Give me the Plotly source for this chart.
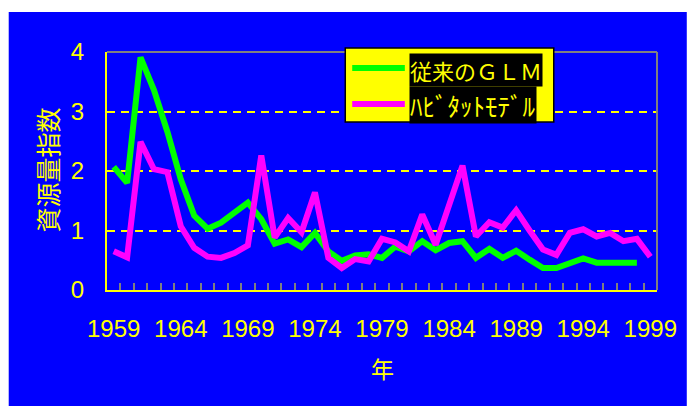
import plotly.graph_objects as go

years = list(range(1959, 2000))
glm = [2.07, 1.80, 3.91, 3.36, 2.66, 1.86, 1.25, 1.03, 1.13, 1.30,
       1.47, 1.19, 0.78, 0.85, 0.72, 0.96, 0.65, 0.49, 0.58, 0.60,
       0.54, 0.73, 0.65, 0.82, 0.67, 0.79, 0.82, 0.54, 0.69, 0.54,
       0.66, 0.51, 0.37, 0.37, 0.44, 0.53, 0.46, 0.46, 0.46, 0.46,
       None]
habitat = [0.65, 0.55, 2.49, 2.03, 1.98, 1.07, 0.71, 0.56, 0.54, 0.62,
           0.75, 2.26, 0.88, 1.21, 0.97, 1.64, 0.54, 0.37, 0.52, 0.48,
           0.86, 0.80, 0.65, 1.27, 0.76, 1.45, 2.09, 0.90, 1.14, 1.05,
           1.34, 1.00, 0.68, 0.59, 0.96, 1.02, 0.90, 0.96, 0.82, 0.86,
           0.56]
xtick_years = [1959, 1964, 1969, 1974, 1979, 1984, 1989, 1994, 1999]
series_names = ["従来のＧＬＭ", "ﾊﾋﾞﾀｯﾄﾓﾃﾞﾙ"]
y_title = "資源量指数"
x_title = "年"

YEL = "#FFFF00"
BLUE = "#0000FF"
GREEN = "#00FF00"
MAG = "#FF00FF"
GRAY = "#808080"
FONT = "Liberation Sans, Arial, Noto Sans CJK JP, sans-serif"
JFONT = "Noto Sans CJK JP, sans-serif"

W, H = 689, 406
L, R, T, B = 107, 28, 52, 116
pw, ph = W - L - R, H - T - B

def px(x):
    return (x - L) / pw

def py(y):
    return (H - B - y) / ph

fig = go.Figure()
fig.add_trace(go.Scatter(x=years, y=glm, mode="lines", name=series_names[0],
                         line=dict(color=GREEN, width=6), connectgaps=False))
fig.add_trace(go.Scatter(x=years, y=habitat, mode="lines", name=series_names[1],
                         line=dict(color=MAG, width=6)))

shapes = [
    dict(type="rect", xref="paper", yref="paper", x0=px(8), x1=px(W + 2),
         y0=py(H + 2), y1=py(12), fillcolor=BLUE, line=dict(width=0), layer="below"),
    dict(type="line", xref="paper", yref="paper", x0=0, x1=1, y0=1, y1=1,
         line=dict(color=GRAY, width=2), layer="above"),
    dict(type="line", xref="paper", yref="paper", x0=1, x1=1, y0=0, y1=1,
         line=dict(color=GRAY, width=2), layer="above"),
    # legend box
    dict(type="rect", xref="paper", yref="paper", x0=px(347), x1=px(557),
         y0=py(122), y1=py(48), fillcolor=YEL, line=dict(color="black", width=1.5),
         layer="above"),
    dict(type="line", xref="paper", yref="paper", x0=px(354), x1=px(407),
         y0=py(68), y1=py(68), line=dict(color=GREEN, width=6), layer="above"),
    dict(type="line", xref="paper", yref="paper", x0=px(354), x1=px(407),
         y0=py(104), y1=py(104), line=dict(color=MAG, width=6), layer="above"),
]

annotations = [
    dict(text=series_names[0], xref="paper", yref="paper", x=px(411), y=py(70),
         xanchor="left", yanchor="middle", showarrow=False, bgcolor="black",
         borderpad=0, font=dict(family=JFONT, size=22, color=YEL)),
    dict(text=series_names[1], xref="paper", yref="paper", x=px(411), y=py(105),
         xanchor="left", yanchor="middle", showarrow=False, bgcolor="black",
         borderpad=0, font=dict(family=JFONT, size=25, color=YEL)),
    dict(text=y_title, xref="paper", yref="paper", x=px(47), y=py(170),
         xanchor="center", yanchor="middle", textangle=-90, showarrow=False,
         font=dict(family=JFONT, size=25, color=YEL)),
    dict(text=x_title, xref="paper", yref="paper", x=px(384), y=py(368),
         xanchor="center", yanchor="middle", showarrow=False,
         font=dict(family=JFONT, size=23, color=YEL)),
]

fig.update_layout(
    width=W, height=H,
    margin=dict(l=L, r=R, t=T, b=B, pad=0),
    paper_bgcolor="white",
    plot_bgcolor="rgba(0,0,0,0)",
    showlegend=False,
    shapes=shapes,
    annotations=annotations,
    xaxis=dict(
        range=[1958.5, 1999.5], tickmode="array", tickvals=xtick_years,
        ticks="", showgrid=False, zeroline=False,
        showline=True, linecolor=YEL, linewidth=2,
        tickfont=dict(family=FONT, size=24, color=YEL),
        ticklabelstandoff=16,
        minor=dict(tickmode="array", tickvals=[y + 0.5 for y in years[:-1]],
                   ticks="inside", ticklen=7, tickwidth=2, tickcolor=GRAY,
                   showgrid=False),
    ),
    yaxis=dict(
        range=[0, 4], tickmode="linear", dtick=1, tick0=0,
        ticks="", showgrid=True, gridcolor=YEL, gridwidth=1.5, griddash="8px,6px",
        zeroline=False, showline=True, linecolor=YEL, linewidth=2,
        tickfont=dict(family=FONT, size=24, color=YEL),
        ticklabelstandoff=16,
    ),
)

fig.write_html("out.html", config={"displayModeBar": False},
               post_script="document.body.style.margin='0';document.body.style.overflow='hidden';")
